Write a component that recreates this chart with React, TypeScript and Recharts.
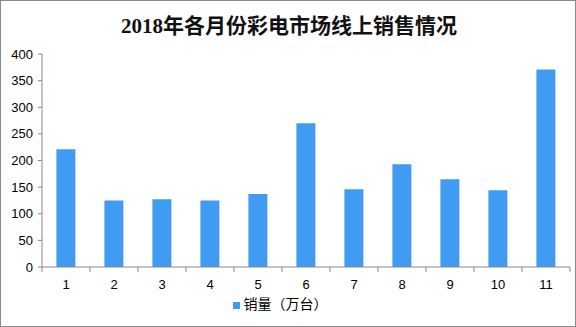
import React from "react";
import { BarChart, Bar, XAxis, YAxis, Legend } from "recharts";

const months = ["1", "2", "3", "4", "5", "6", "7", "8", "9", "10", "11"];
const sales = [221, 125, 127, 125, 137, 270, 146, 193, 165, 144, 371];
const yTicks = [0, 50, 100, 150, 200, 250, 300, 350, 400];
const seriesName = "销量（万台）";
const title = "2018年各月份彩电市场线上销售情况";

const data = months.map((m, i) => ({ month: m, value: sales[i] }));

const AXIS = "#888888";
const BAR = "#3F9CF0";

const XTick = (props: any) => {
  const { x, y, payload, index, visibleTicksCount } = props;
  const off = payload && payload.offset ? payload.offset : 24;
  const last = index === (visibleTicksCount ?? months.length) - 1;
  return (
    <g>
      <line x1={x - off} x2={x - off} y1={y} y2={y + 5} stroke={AXIS} />
      {last && <line x1={x + off} x2={x + off} y1={y} y2={y + 5} stroke={AXIS} />}
      <text
        x={x}
        y={y + 22}
        textAnchor="middle"
        fill="#000"
        style={{ fontFamily: "'Liberation Sans', Arial, sans-serif", fontSize: 13 }}
      >
        {payload.value}
      </text>
    </g>
  );
};

export default function App() {
  return (
    <div
      style={{
        position: "absolute",
        left: 0,
        top: 0,
        width: 576,
        height: 327,
        boxSizing: "border-box",
        border: "1px solid #8a8a8a",
        background: "#fff",
      }}
    >
      <div
        style={{
          position: "absolute",
          left: 0,
          top: 11,
          width: 576,
          textAlign: "center",
          fontFamily: "'Liberation Serif', 'Noto Sans CJK SC', serif",
          fontSize: 21,
          fontWeight: "bold",
          color: "#111",
          lineHeight: "28px",
        }}
      >
        {title}
      </div>
      <div style={{ position: "absolute", left: -1, top: -1 }}>
        <BarChart
          width={576}
          height={327}
          data={data}
          margin={{ top: 54, right: 6, left: 0, bottom: 4 }}
          barCategoryGap="30%"
        >
          <XAxis
            dataKey="month"
            height={30}
            tickSize={0}
            tickMargin={0}
            tickLine={false}
            axisLine={{ stroke: AXIS }}
            tick={<XTick />}
            interval={0}
          />
          <YAxis
            width={42}
            domain={[0, 400]}
            ticks={yTicks}
            tickSize={4}
            tickMargin={5}
            axisLine={{ stroke: AXIS }}
            tickLine={{ stroke: AXIS }}
            tick={{ fill: "#000", fontSize: 13, fontFamily: "'Liberation Sans', Arial, sans-serif" }}
            interval={0}
          />
          <Legend
            iconType="square"
            iconSize={7}
            wrapperStyle={{
              top: 290,
              bottom: "auto",
              height: 26,
              fontFamily: "'Noto Sans CJK SC', sans-serif",
              fontSize: 14,
              lineHeight: "26px",
            }}
            formatter={(v: any) => <span style={{ color: "#000" }}>{v}</span>}
          />
          <Bar dataKey="value" name={seriesName} fill={BAR} isAnimationActive={false} />
        </BarChart>
      </div>
    </div>
  );
}
